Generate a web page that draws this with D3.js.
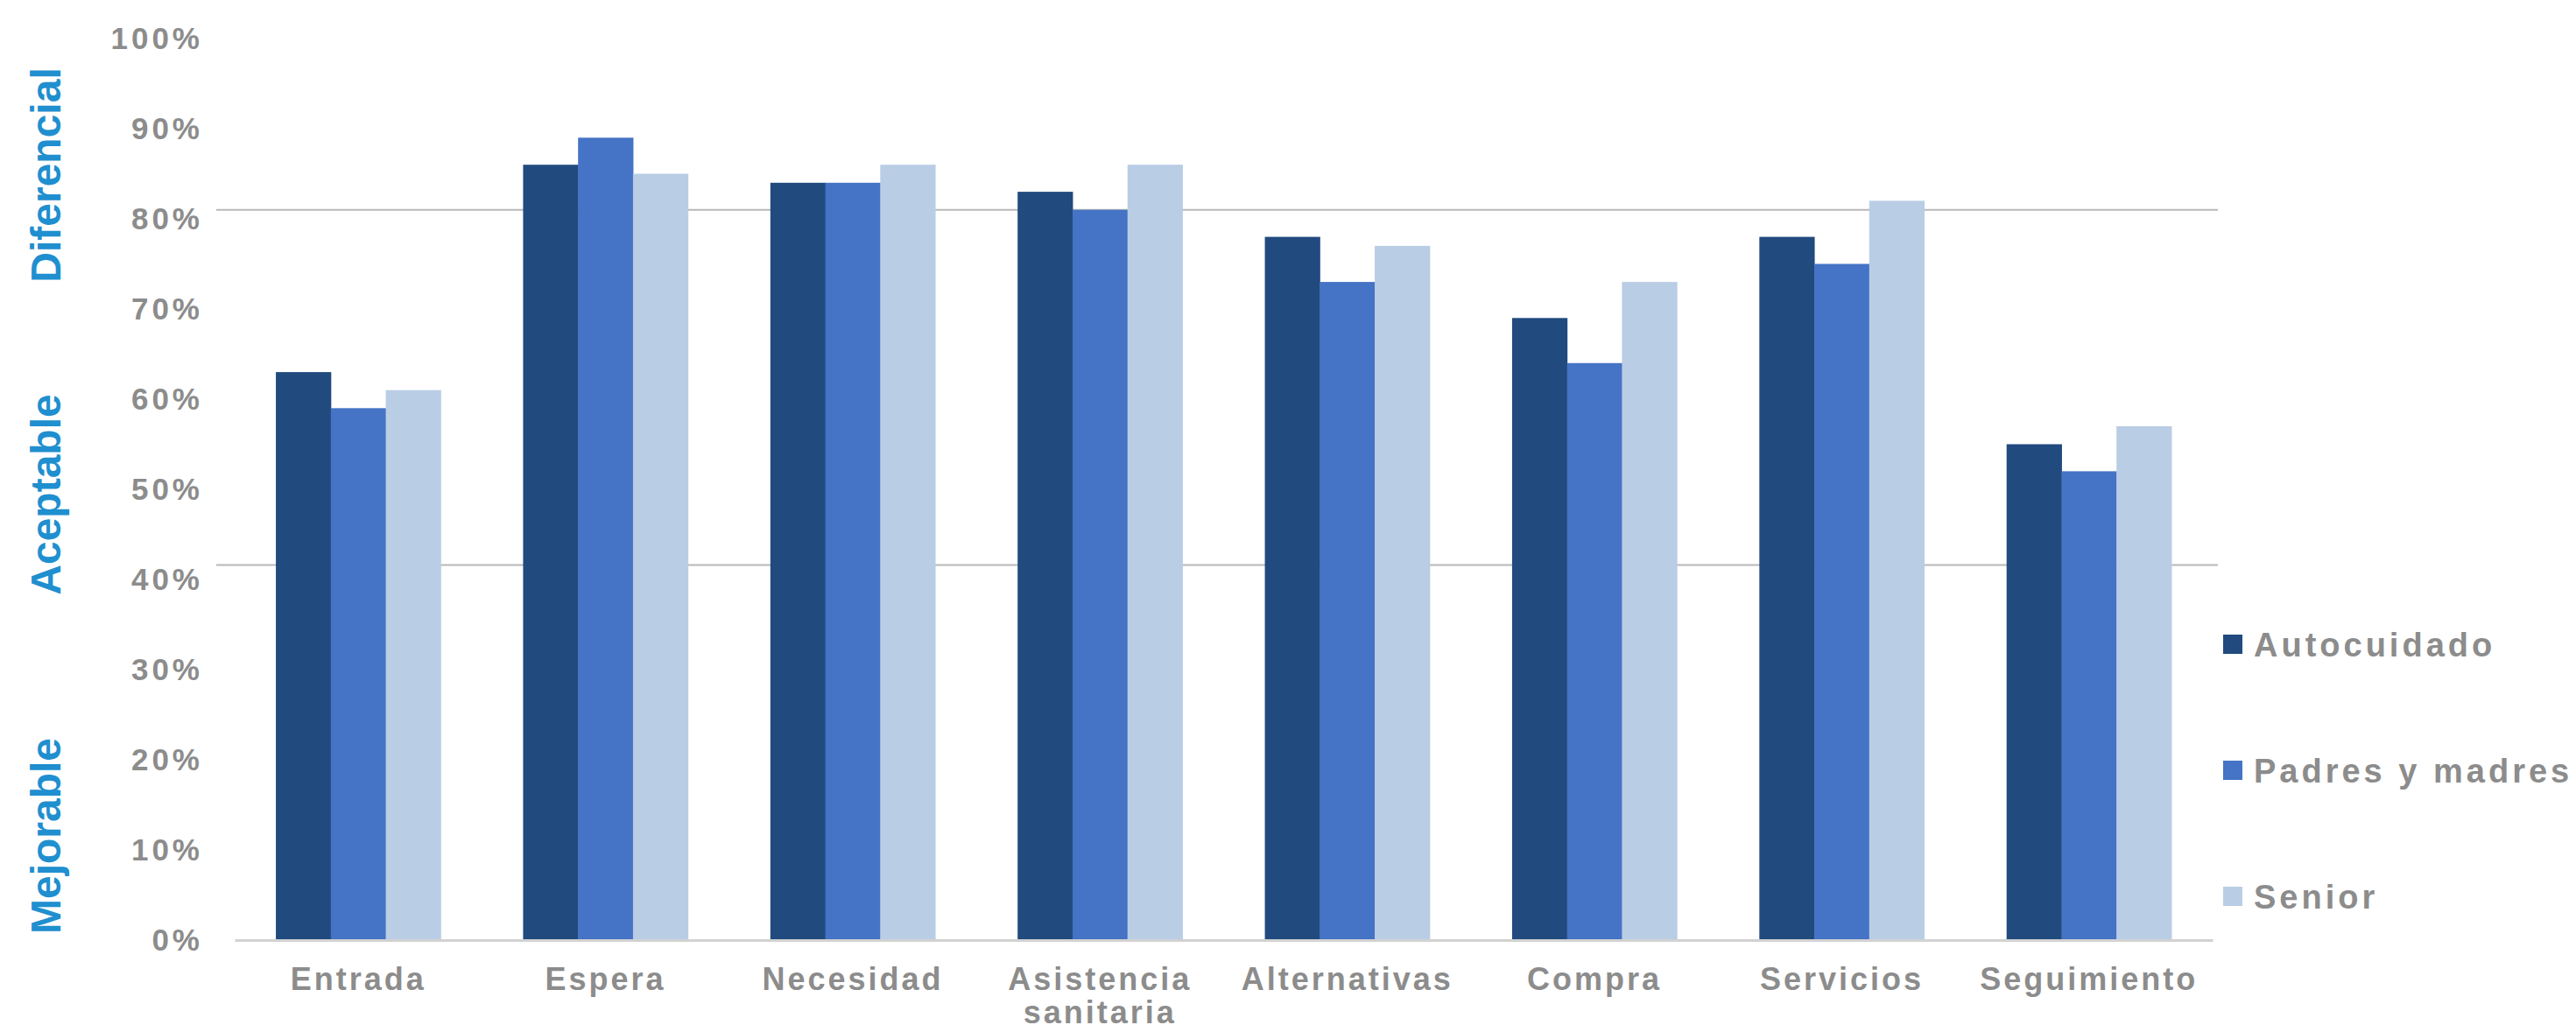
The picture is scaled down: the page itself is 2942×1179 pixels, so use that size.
<!DOCTYPE html>
<html>
<head>
<meta charset="utf-8">
<script src="https://d3js.org/d3.v7.min.js"></script>
<style>
  html, body { margin: 0; padding: 0; background: #fff; }
  svg { display: block; font-family: "Liberation Sans", Arial, sans-serif; font-weight: bold; }
</style>
</head>
<body>
<div id="chart"></div>
<script>
// categorias del eje x
var categories = ["Entrada", "Espera", "Necesidad", "Asistencia sanitaria", "Alternativas", "Compra", "Servicios", "Seguimiento"];
var seriesNames = ["Autocuidado", "Padres y madres", "Senior"];
var autocuidado = [63, 86, 84, 83, 78, 69, 78, 55];
var padresMadres = [59, 89, 84, 81, 73, 64, 75, 52];
var senior = [61, 85, 86, 86, 77, 73, 82, 57];
var yTicks = [0, 10, 20, 30, 40, 50, 60, 70, 80, 90, 100];
var thresholds = [41.6, 81];
var zones = ["Diferencial", "Aceptable", "Mejorable"];
var colors = ["#214a7e", "#4573c5", "#b9cde5"];

var width = 2942, height = 1179;
var gray = "#8c8c8c";

var svg = d3.select("#chart").append("svg").attr("width", width).attr("height", height);

var x = d3.scaleBand().domain(categories).range([268, 2527]).paddingInner(1 / 3).paddingOuter(1 / 6);
var xs = d3.scaleBand().domain(seriesNames).range([0, x.bandwidth()]);
var y = d3.scaleLinear().domain([0, 100]).range([1074, 44]);

// lineas de umbral
svg.append("g").selectAll("line").data(thresholds).enter().append("line")
  .attr("x1", 247).attr("x2", 2533)
  .attr("y1", function (d) { return y(d); }).attr("y2", function (d) { return y(d); })
  .attr("stroke", "#b8b8b8").attr("stroke-width", 2);

// barras
var rows = categories.map(function (c, i) {
  return { cat: c, vals: [autocuidado[i], padresMadres[i], senior[i]] };
});
var groups = svg.append("g").selectAll("g").data(rows).enter().append("g")
  .attr("transform", function (d) { return "translate(" + x(d.cat) + ",0)"; });
groups.selectAll("rect").data(function (d) { return d.vals; }).enter().append("rect")
  .attr("x", function (d, i) { return xs(seriesNames[i]); })
  .attr("y", function (d) { return y(d); })
  .attr("width", xs.bandwidth() + 0.5)
  .attr("height", function (d) { return y(0) - y(d); })
  .attr("fill", function (d, i) { return colors[i]; });

// eje y
var yAxis = svg.append("g").attr("transform", "translate(268,0)")
  .call(d3.axisLeft(y).tickValues(yTicks).tickFormat(function (d) { return d + "%"; }).tickSize(0).tickPadding(36));
yAxis.select(".domain").remove();
yAxis.selectAll("text").attr("fill", gray).style("font-size", "35px").style("letter-spacing", "4px")
  .style("font-family", "'Liberation Sans', Arial, sans-serif").style("font-weight", "bold");

// eje x
var xAxis = svg.append("g").attr("transform", "translate(0," + y(0) + ")")
  .call(d3.axisBottom(x).tickSize(0).tickSizeOuter(0));
xAxis.select(".domain").attr("stroke", "#d2d2d2").attr("stroke-width", 3);
xAxis.selectAll("text").each(function (d) {
  var t = d3.select(this).text("").attr("y", 57).attr("dy", 0)
    .attr("fill", gray).style("font-size", "36px").style("letter-spacing", "3px")
    .style("font-family", "'Liberation Sans', Arial, sans-serif").style("font-weight", "bold");
  var words = d === "Asistencia sanitaria" ? ["Asistencia", "sanitaria"] : [d];
  words.forEach(function (w, i) {
    t.append("tspan").attr("x", 0).attr("dy", i === 0 ? 0 : 38).text(w);
  });
});

// etiquetas de zona
var zoneCenters = [200, 565, 955];
svg.append("g").selectAll("text").data(zones).enter().append("text")
  .attr("transform", function (d, i) { return "translate(69," + zoneCenters[i] + ") rotate(-90)"; })
  .attr("text-anchor", "middle")
  .attr("fill", "#1f8fcf").style("font-size", "48px")
  .text(function (d) { return d; });

// leyenda
var legend = svg.append("g").selectAll("g").data(seriesNames).enter().append("g")
  .attr("transform", function (d, i) { return "translate(2539," + (736 + i * 144) + ")"; });
legend.append("rect").attr("x", 0).attr("y", -11).attr("width", 22).attr("height", 22)
  .attr("fill", function (d, i) { return colors[i]; });
legend.append("text").attr("x", 35).attr("dy", "0.36em")
  .attr("fill", gray).style("font-size", "38px").style("letter-spacing", "4px")
  .text(function (d) { return d; });
</script>
</body>
</html>
